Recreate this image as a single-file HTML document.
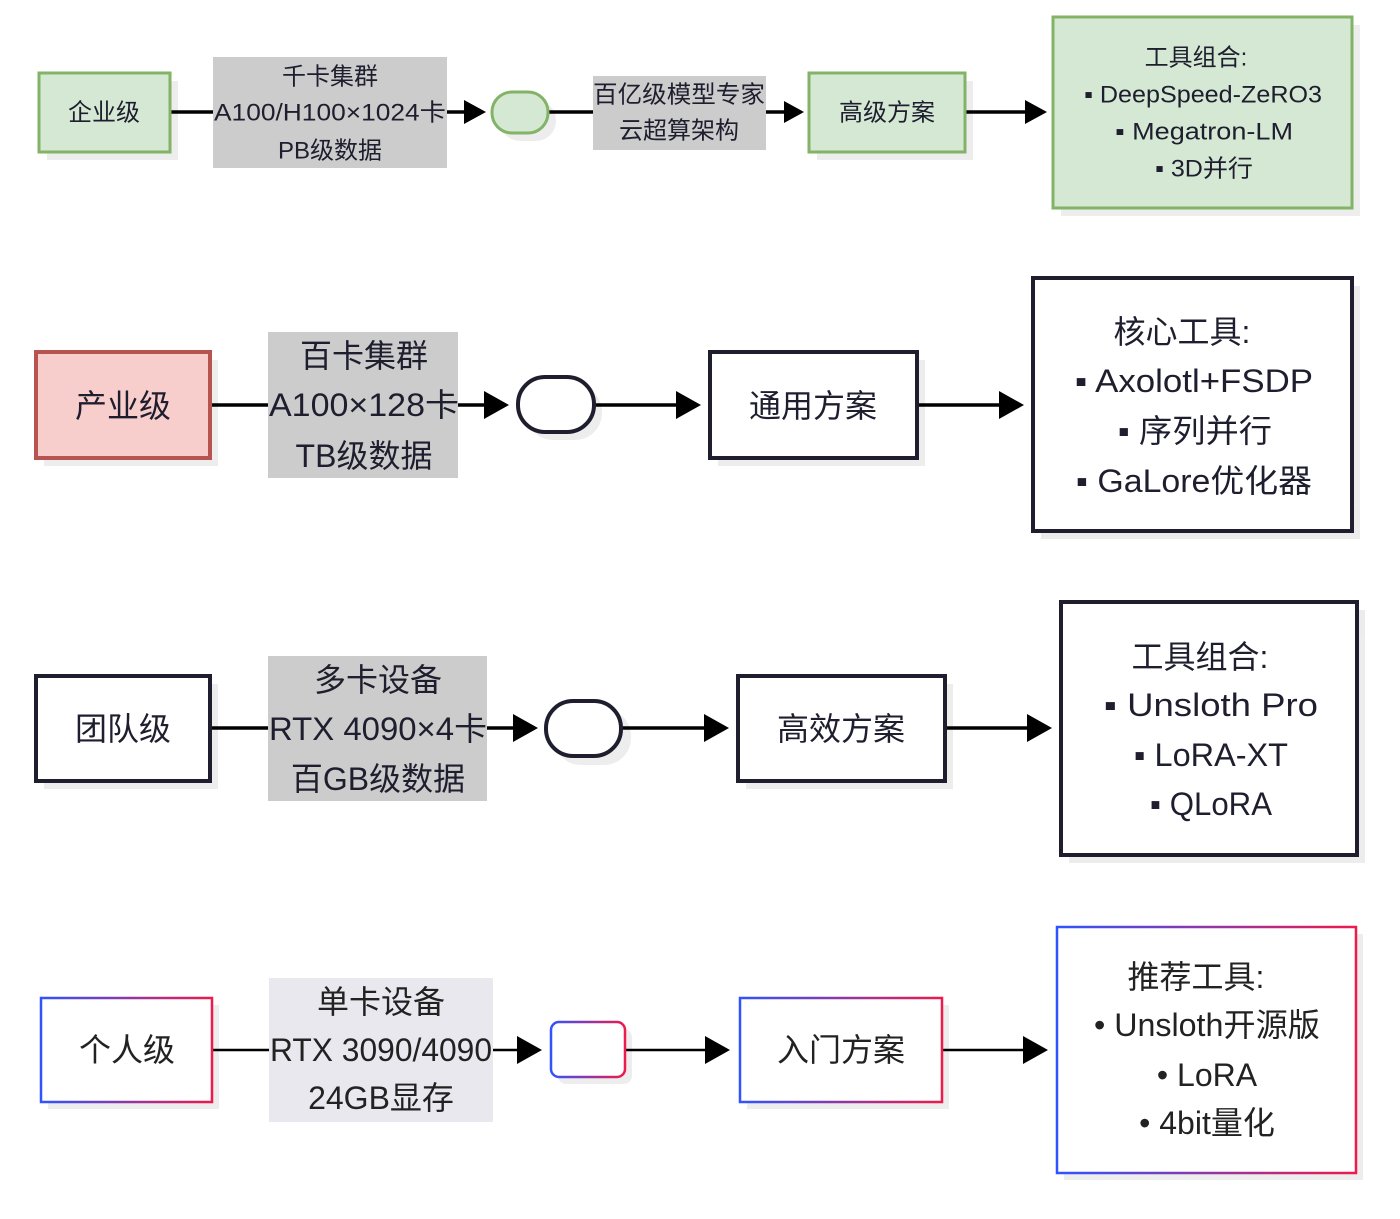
<!DOCTYPE html>
<html><head><meta charset="utf-8"><style>
html,body{margin:0;padding:0;background:#fff}
svg{display:block}
text{font-family:"Liberation Sans","Noto Sans CJK SC",sans-serif;fill:#1e1e2e;text-anchor:middle;dominant-baseline:central}
.a text{fill:#222}
</style></head><body>
<svg width="1400" height="1219" viewBox="0 0 1400 1219" xmlns="http://www.w3.org/2000/svg">
<defs>
<linearGradient id="g" x1="0" y1="0" x2="1" y2="0"><stop offset="0" stop-color="#2f54ff"/><stop offset="1" stop-color="#ee1a4c"/></linearGradient>
</defs>
<g fill="#000" opacity="0.07">
<rect x="47" y="81" width="131" height="79"/><rect x="817" y="81" width="156" height="79"/><rect x="1061" y="25" width="299" height="191"/><rect x="500" y="100" width="56" height="41" rx="20"/>
<rect x="44" y="360" width="174" height="106"/><rect x="718" y="360" width="207" height="106"/><rect x="1041" y="286" width="319" height="253"/><rect x="526" y="385" width="76" height="55" rx="27"/>
<rect x="44" y="684" width="174" height="105"/><rect x="746" y="684" width="207" height="105"/><rect x="1069" y="610" width="296" height="253"/><rect x="554" y="709" width="77" height="56" rx="27"/>
<rect x="48" y="1005" width="171" height="104"/><rect x="747" y="1005" width="202" height="104"/><rect x="1064" y="934" width="299" height="246"/><rect x="558" y="1029" width="74" height="55" rx="8"/>
</g>
<g stroke="#000" stroke-width="3.5" fill="none">
<path d="M170 112H213M447 112H464M548 112H593M766 112H786M965 112H1027"/>
<path d="M210 405H268M458 405H486M594 405H678M917 405H1001"/>
<path d="M210 728H268M487 728H515M621 728H706M945 728H1029"/>
<path d="M212 1050H269M493 1050H519M625 1050H707M942 1050H1025" stroke-width="2.5"/>
</g>
<g fill="#000">
<path d="M464 100L486 112L464 124Z"/><path d="M784 101L804 112L784 123Z"/><path d="M1025 100L1047 112L1025 124Z"/>
<path d="M484 391L509 405L484 419Z"/><path d="M676 391L701 405L676 419Z"/><path d="M999 391L1024 405L999 419Z"/>
<path d="M513 714L538 728L513 742Z"/><path d="M704 714L729 728L704 742Z"/><path d="M1027 714L1052 728L1027 742Z"/>
<path d="M517 1036L542 1050L517 1064Z"/><path d="M705 1036L730 1050L705 1064Z"/><path d="M1023 1036L1048 1050L1023 1064Z"/>
</g>
<!-- row1 -->
<rect x="39" y="73" width="131" height="79" fill="#d5e8d4" stroke="#82b366" stroke-width="3"/>
<rect x="213" y="57" width="234" height="111" fill="#cccccc"/>
<rect x="492" y="92" width="56" height="41" rx="20" fill="#d5e8d4" stroke="#82b366" stroke-width="3"/>
<rect x="593" y="76" width="173" height="74" fill="#cccccc"/>
<rect x="809" y="73" width="156" height="79" fill="#d5e8d4" stroke="#82b366" stroke-width="3"/>
<rect x="1053" y="17" width="299" height="191" fill="#d5e8d4" stroke="#82b366" stroke-width="3"/>
<g transform="translate(0,1)">
<text x="104" y="112" font-size="24">企业级</text>
<text x="330" y="76" font-size="24">千卡集群</text>
<text x="330" y="112" font-size="24" textLength="232" lengthAdjust="spacingAndGlyphs">A100/H100×1024卡</text>
<text x="330" y="150" font-size="24">PB级数据</text>
<text x="679" y="94" font-size="24" textLength="172" lengthAdjust="spacingAndGlyphs">百亿级模型专家</text>
<text x="679" y="130" font-size="24">云超算架构</text>
<text x="887" y="112" font-size="24">高级方案</text>
<text x="1196" y="57" font-size="24">工具组合:</text>
<text x="1203" y="94" font-size="24" textLength="238" lengthAdjust="spacingAndGlyphs">▪ DeepSpeed-ZeRO3</text>
<text x="1204" y="131" font-size="24" textLength="178" lengthAdjust="spacingAndGlyphs">▪ Megatron-LM</text>
<text x="1204" y="168" font-size="24" textLength="98" lengthAdjust="spacingAndGlyphs">▪ 3D并行</text>
</g>
<!-- row2 -->
<rect x="36" y="352" width="174" height="106" fill="#f8cecc" stroke="#b85450" stroke-width="4"/>
<rect x="268" y="332" width="190" height="146" fill="#cccccc"/>
<rect x="518" y="377" width="76" height="55" rx="27" fill="#fff" stroke="#1e1e2e" stroke-width="4"/>
<rect x="710" y="352" width="207" height="106" fill="#fff" stroke="#1e1e2e" stroke-width="4"/>
<rect x="1033" y="278" width="319" height="253" fill="#fff" stroke="#1e1e2e" stroke-width="4"/>
<g transform="translate(0,1)">
<text x="123" y="405" font-size="32">产业级</text>
<text x="364" y="355" font-size="32">百卡集群</text>
<text x="364" y="404" font-size="32" textLength="190" lengthAdjust="spacingAndGlyphs">A100×128卡</text>
<text x="364" y="455" font-size="32">TB级数据</text>
<text x="813" y="405" font-size="32">通用方案</text>
<text x="1182" y="331" font-size="32">核心工具:</text>
<text x="1194" y="380" font-size="32" textLength="238" lengthAdjust="spacingAndGlyphs">▪ Axolotl+FSDP</text>
<text x="1195" y="430" font-size="32" textLength="154" lengthAdjust="spacingAndGlyphs">▪ 序列并行</text>
<text x="1194" y="480" font-size="32" textLength="236" lengthAdjust="spacingAndGlyphs">▪ GaLore优化器</text>
</g>
<!-- row3 -->
<rect x="36" y="676" width="174" height="105" fill="#fff" stroke="#1e1e2e" stroke-width="4"/>
<rect x="268" y="656" width="219" height="145" fill="#cccccc"/>
<rect x="546" y="701" width="75" height="55" rx="27" fill="#fff" stroke="#1e1e2e" stroke-width="4"/>
<rect x="738" y="676" width="207" height="105" fill="#fff" stroke="#1e1e2e" stroke-width="4"/>
<rect x="1061" y="602" width="296" height="253" fill="#fff" stroke="#1e1e2e" stroke-width="4"/>
<g transform="translate(0,1)">
<text x="123" y="728" font-size="32">团队级</text>
<text x="378" y="679" font-size="32">多卡设备</text>
<text x="378" y="728" font-size="32" textLength="218" lengthAdjust="spacingAndGlyphs">RTX 4090×4卡</text>
<text x="378" y="778" font-size="32">百GB级数据</text>
<text x="841" y="728" font-size="32">高效方案</text>
<text x="1200" y="656" font-size="32">工具组合:</text>
<text x="1211" y="704" font-size="32" textLength="214" lengthAdjust="spacingAndGlyphs">▪ Unsloth Pro</text>
<text x="1211" y="754" font-size="32" textLength="154" lengthAdjust="spacingAndGlyphs">▪ LoRA-XT</text>
<text x="1211" y="803" font-size="32" textLength="122" lengthAdjust="spacingAndGlyphs">▪ QLoRA</text>
</g>
<!-- row4 -->
<g class="a">
<rect x="41" y="998" width="171" height="104" fill="#fff" stroke="url(#g)" stroke-width="2.5"/>
<rect x="269" y="978" width="224" height="144" fill="#e8e8ee"/>
<rect x="551" y="1022" width="74" height="55" rx="8" fill="#fff" stroke="url(#g)" stroke-width="2.5"/>
<rect x="740" y="998" width="202" height="104" fill="#fff" stroke="url(#g)" stroke-width="2.5"/>
<rect x="1057" y="927" width="299" height="246" fill="#fff" stroke="url(#g)" stroke-width="2.5"/>
<text x="127" y="1050" font-size="32">个人级</text>
<text x="381" y="1002" font-size="32">单卡设备</text>
<text x="381" y="1050" font-size="32" textLength="222" lengthAdjust="spacingAndGlyphs">RTX 3090/4090</text>
<text x="381" y="1098" font-size="32">24GB显存</text>
<text x="841" y="1050" font-size="32">入门方案</text>
<text x="1196" y="977" font-size="32">推荐工具:</text>
<text x="1207" y="1025" font-size="32" textLength="226" lengthAdjust="spacingAndGlyphs">• Unsloth开源版</text>
<text x="1207" y="1075" font-size="32">• LoRA</text>
<text x="1207" y="1123" font-size="32">• 4bit量化</text>
</g>
</svg>
</body></html>
